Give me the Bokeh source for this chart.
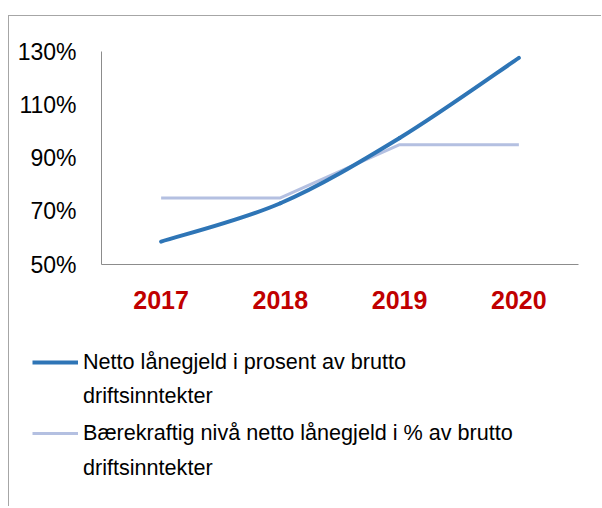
from bokeh.plotting import figure
from bokeh.models import Range1d, FixedTicker, Legend, LegendItem
from bokeh.embed import file_html
from bokeh.resources import INLINE

# ---- data ----
years = ["2017", "2018", "2019", "2020"]
netto = [58.6, 73.0, 97.5, 127.6]          # Netto lånegjeld i prosent av brutto driftsinntekter
baerekraftig = [75, 75, 95, 95]            # Bærekraftig nivå
y_ticks = [50, 70, 90, 110, 130]
y_tick_labels = ["50%", "70%", "90%", "110%", "130%"]
legend_lines = ["Netto lånegjeld i prosent av brutto", "driftsinntekter",
                "Bærekraftig nivå netto lånegjeld i % av brutto", "driftsinntekter"]

BLUE = "#2e75b6"
LAV = "#b4c0e1"
AXIS = "#8c8c8c"
FONT = "Liberation Sans"

xs = list(range(len(years)))

p = figure(width=593, height=314, x_range=Range1d(-0.5, 3.5), y_range=Range1d(50, 130),
           output_backend="svg", toolbar_location=None,
           min_border_left=92, min_border_right=24, min_border_top=35, min_border_bottom=66,
           styles={"margin-top": "15px", "margin-left": "8px",
                   "border-top": "1px solid #a6a6a6",
                   "border-left": "1px solid #a6a6a6"})
p.outline_line_color = None
p.xgrid.visible = False
p.ygrid.visible = False
p.background_fill_color = "white"
p.border_fill_color = "white"

# sustainable level (straight segments)
p.line(xs, baerekraftig, line_color=LAV, line_width=3)

# smoothed series (Excel-like smoothing through the data points)
n = len(xs)
bx0, by0, bx1, by1, cx0, cy0, cx1, cy1 = [], [], [], [], [], [], [], []
for i in range(n - 1):
    xp, yp = (xs[i - 1], netto[i - 1]) if i > 0 else (xs[i], netto[i])
    xa, ya = xs[i], netto[i]
    xb, yb = xs[i + 1], netto[i + 1]
    xn, yn = (xs[i + 2], netto[i + 2]) if i + 2 < n else (xs[i + 1], netto[i + 1])
    bx0.append(xa); by0.append(ya); bx1.append(xb); by1.append(yb)
    cx0.append(xa + (xb - xp) / 6); cy0.append(ya + (yb - yp) / 6)
    cx1.append(xb - (xn - xa) / 6); cy1.append(yb - (yn - ya) / 6)
p.bezier(x0=bx0, y0=by0, x1=bx1, y1=by1, cx0=cx0, cy0=cy0, cx1=cx1, cy1=cy1,
         line_color=BLUE, line_width=4, line_cap="round")

# axes
p.yaxis.ticker = FixedTicker(ticks=y_ticks)
p.yaxis.major_label_overrides = {t: l for t, l in zip(y_ticks, y_tick_labels)}
p.yaxis.major_tick_line_color = None
p.yaxis.minor_tick_line_color = None
p.yaxis.axis_line_color = AXIS
p.yaxis.major_label_text_font = FONT
p.yaxis.major_label_text_font_size = "23px"
p.yaxis.major_label_text_color = "#000000"
p.yaxis.major_label_standoff = 19

p.xaxis.ticker = FixedTicker(ticks=xs)
p.xaxis.major_label_overrides = {x: y for x, y in zip(xs, years)}
p.xaxis.major_tick_line_color = None
p.xaxis.minor_tick_line_color = None
p.xaxis.axis_line_color = AXIS
p.xaxis.major_label_text_font = FONT
p.xaxis.major_label_text_font_style = "bold"
p.xaxis.major_label_text_font_size = "25px"
p.xaxis.major_label_text_color = "#c00000"
p.xaxis.major_label_standoff = 20

# ---- legend panel (second root figure, no axes) ----
p2 = figure(width=593, height=177, x_range=Range1d(0, 1), y_range=Range1d(0, 1),
            output_backend="svg", toolbar_location=None,
            x_axis_location=None, y_axis_location=None,
            min_border_left=0, min_border_right=0, min_border_top=0, min_border_bottom=0,
            styles={"margin-left": "8px", "border-left": "1px solid #a6a6a6"})
p2.outline_line_color = None
p2.xgrid.visible = False
p2.ygrid.visible = False

nan = float("nan")
r_blue = p2.line(x=[nan], y=[nan], line_color=BLUE, line_width=4)
r_lav = p2.line(x=[nan], y=[nan], line_color=LAV, line_width=3)
r_none = p2.line(x=[nan], y=[nan], line_color="white", line_alpha=0)

groups = [([(legend_lines[0], r_blue), (legend_lines[1], r_none)], 8, (23, 97)),
          ([(legend_lines[2], r_lav), (legend_lines[3], r_none)], 9, (23, 25))]
for items, sp, loc in groups:
    leg = Legend(items=[LegendItem(label=l, renderers=[r]) for l, r in items], location=loc,
                 padding=0, margin=0, spacing=sp, border_line_color=None,
                 background_fill_alpha=0, label_text_font=FONT, label_text_font_size="21.6px",
                 label_text_color="#000000", glyph_width=46, glyph_height=24,
                 label_height=24, label_standoff=5)
    p2.add_layout(leg)

open("out.html", "w").write(file_html([p, p2], INLINE))
